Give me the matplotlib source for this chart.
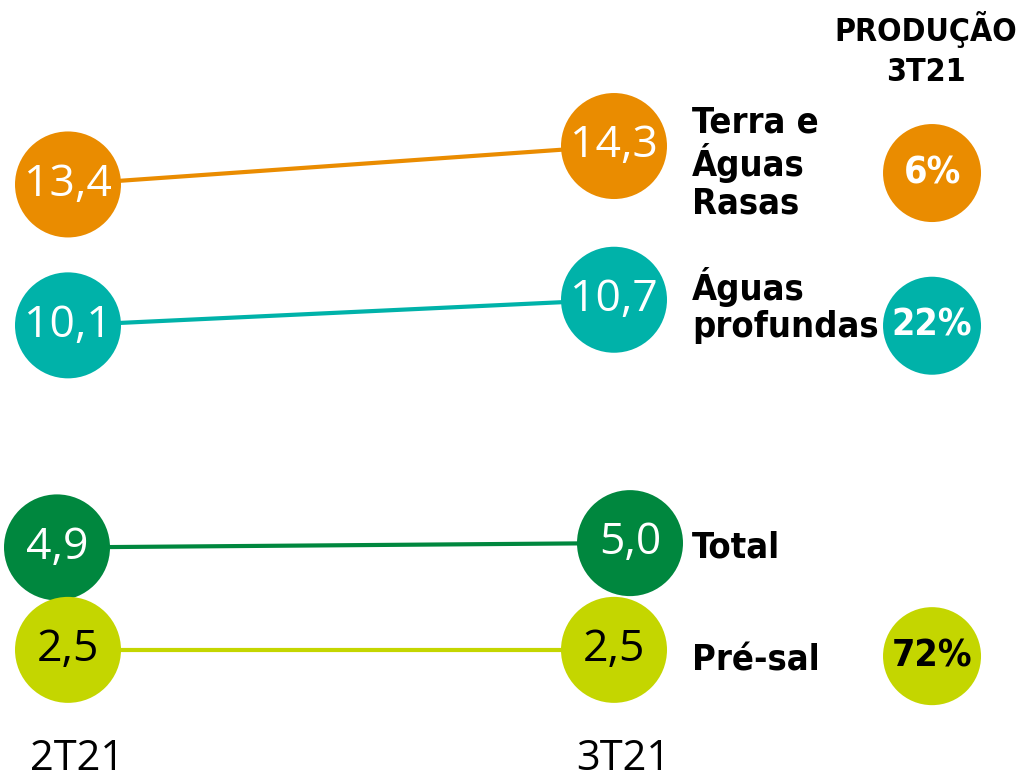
import matplotlib
matplotlib.use("Agg")
import matplotlib.pyplot as plt
from matplotlib.transforms import offset_copy, blended_transform_factory

# ---- data ----
periods = ["2T21", "3T21"]
series_names = ["Terra e\nÁguas\nRasas", "Águas\nprofundas", "Total", "Pré-sal"]
values_2t21 = [13.4, 10.1, 4.9, 2.5]
values_3t21 = [14.3, 10.7, 5.0, 2.5]
share_names = ["Terra e\nÁguas\nRasas", "Águas\nprofundas", "Pré-sal"]
share_values = [6, 22, 72]
share_title = "PRODUÇÃO\n3T21"

# ---- style ----
colors = ["#EA8C00", "#00B2A9", "#00873E", "#C4D600"]
text_colors = ["white", "white", "white", "black"]
share_colors = ["#EA8C00", "#00B2A9", "#C4D600"]
share_text_colors = ["white", "white", "black"]
circle_dx = [[0, 0], [0, 0], [-11, 16], [0, 0]]
label_y = [0.792, 0.610, 0.301, 0.157]
share_y = [0.779, 0.584, 0.162]

W, H = 1031, 783
fig = plt.figure(figsize=(W / 100, H / 100), dpi=100)
ax = fig.add_axes([0, 0, 1, 1])
ax.set_xlim(-68 / 546, (W - 68) / 546)
ax.set_ylim(-0.618, 17.72)
ax.axis("off")

num_font = "Open Sans"
lab_font = "DejaVu Sans"
marker_s = (106 * 72 / 100) ** 2
share_s = (98 * 72 / 100) ** 2

x = [0, 1]
for i, name in enumerate(series_names):
    ys = [values_2t21[i], values_3t21[i]]
    ax.plot(x, ys, color=colors[i], lw=3.0, zorder=1 + i * 2, solid_capstyle="butt")
    for j in range(2):
        tr = offset_copy(ax.transData, fig=fig, x=circle_dx[i][j], y=0, units="dots")
        ax.scatter([x[j]], [ys[j]], s=marker_s, color=colors[i], edgecolors="none",
                   transform=tr, zorder=2 + i * 2)
        ax.text(x[j], ys[j], f"{ys[j]:.1f}".replace(".", ","), transform=tr,
                ha="center", va="center", color=text_colors[i], fontsize=32,
                family=num_font, zorder=3 + i * 2)
    ax.text(0.671, label_y[i], name, transform=ax.transAxes, ha="left", va="center",
            fontsize=26, fontweight="bold", fontstretch="condensed", family=lab_font,
            color="black", linespacing=1.12)

# period labels
btr = blended_transform_factory(ax.transData, ax.transAxes)
for j, p in enumerate(periods):
    tr = offset_copy(btr, fig=fig, x=9, y=0, units="dots")
    ax.text(x[j], 0.031, p, transform=tr, ha="center", va="center", fontsize=30,
            family=num_font, color="black")

# share circles
ax.text(0.898, 0.937, share_title, transform=ax.transAxes, ha="center", va="center",
        fontsize=23, fontweight="bold", fontstretch="condensed", family=lab_font,
        multialignment="center", linespacing=1.35)
for k, v in enumerate(share_values):
    ax.scatter([0.904], [share_y[k]], s=share_s, color=share_colors[k], edgecolors="none",
               transform=ax.transAxes, zorder=20)
    ax.text(0.904, share_y[k], f"{v}%", transform=ax.transAxes, ha="center", va="center",
            fontsize=27, fontweight="bold", fontstretch="condensed", family=lab_font,
            color=share_text_colors[k], zorder=21)

fig.savefig("out.png", dpi=100)
